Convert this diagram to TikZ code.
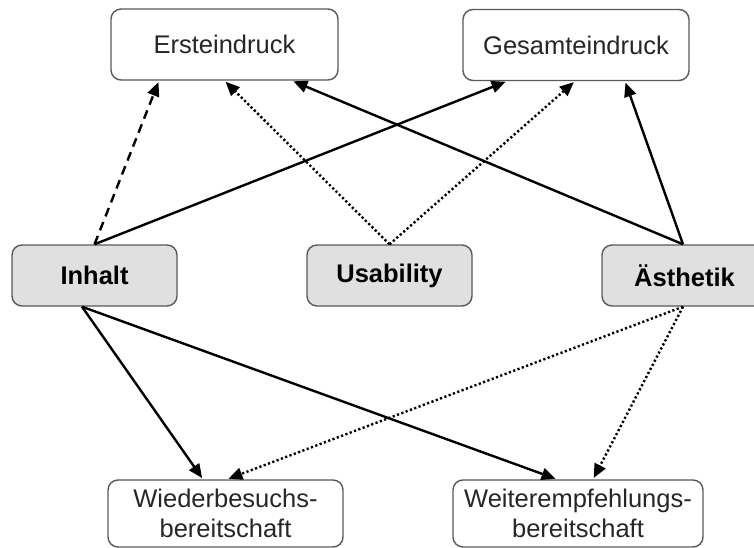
\documentclass[tikz,border=0pt]{standalone}
\usepackage{fontspec}
\setmainfont{Liberation Sans}
\usetikzlibrary{arrows.meta}
\begin{document}
\begin{tikzpicture}[x=1pt,y=-1pt,
  box/.style={draw=black!65, line width=1.4pt, rounded corners=10pt, inner sep=0pt,
    align=center, font=\fontsize{25.5}{30}\selectfont, text=black!85},
  topbox/.style={box, fill=white, minimum width=227pt, minimum height=71pt},
  midbox/.style={box, fill=black!12, minimum width=165pt, minimum height=61pt,
    font=\fontsize{25.5}{30}\selectfont\bfseries, text=black},
  botbox/.style={box, fill=white, minimum height=67pt},
  conn/.style={line width=2.4pt, -{Triangle[length=14pt,width=12pt]}, shorten >=1.5pt},
  solidconn/.style={conn},
  dashconn/.style={conn, dash pattern=on 9pt off 6pt},
  dotconn/.style={conn, dash pattern=on 2.2pt off 2.4pt}
]
\useasboundingbox (0,0) rectangle (754,548);
\clip (0,0) rectangle (754,548);

\node[topbox] (ers) at (224.5,44.5) {Ersteindruck};
\node[topbox, minimum width=226pt] (ges) at (576,45) {Gesamteindruck};

\node[midbox] (inh) at (94.5,275.5) {Inhalt};
\node[midbox] (usa) at (389.5,275.5) {Usability};
\node[midbox] (aes) at (684.5,275.5) {Ästhetik};

\node[botbox, minimum width=235pt] (wie) at (225.5,513.5) {Wiederbesuchs-\\bereitschaft};
\node[botbox, minimum width=250pt] (wei) at (578,513.5) {Weiterempfehlungs-\\bereitschaft};

% Inhalt
\draw[dashconn] (inh.north) -- ([xshift=-65.5pt]ers.south);
\draw[solidconn] (inh.north) -- ([xshift=-69pt]ges.south);
\draw[solidconn] ([xshift=-12.5pt]inh.south) -- ([xshift=-22.5pt]wie.north);
\draw[solidconn] ([xshift=-12.5pt]inh.south) -- ([xshift=-21pt]wei.north);

% Usability
\draw[dotconn] (usa.north) -- ([xshift=0pt]ers.south);
\draw[dotconn] (usa.north) -- ([xshift=-1pt]ges.south);

% Aesthetik
\draw[solidconn] ([xshift=-1.5pt]aes.north) -- ([xshift=67.5pt]ers.south);
\draw[solidconn] ([xshift=-1.5pt]aes.north) -- ([xshift=49pt]ges.south);
\draw[dotconn] ([xshift=-1.5pt]aes.south) -- ([xshift=1.5pt]wie.north);
\draw[dotconn] ([xshift=-1.5pt]aes.south) -- ([xshift=15pt]wei.north);
\end{tikzpicture}
\end{document}
